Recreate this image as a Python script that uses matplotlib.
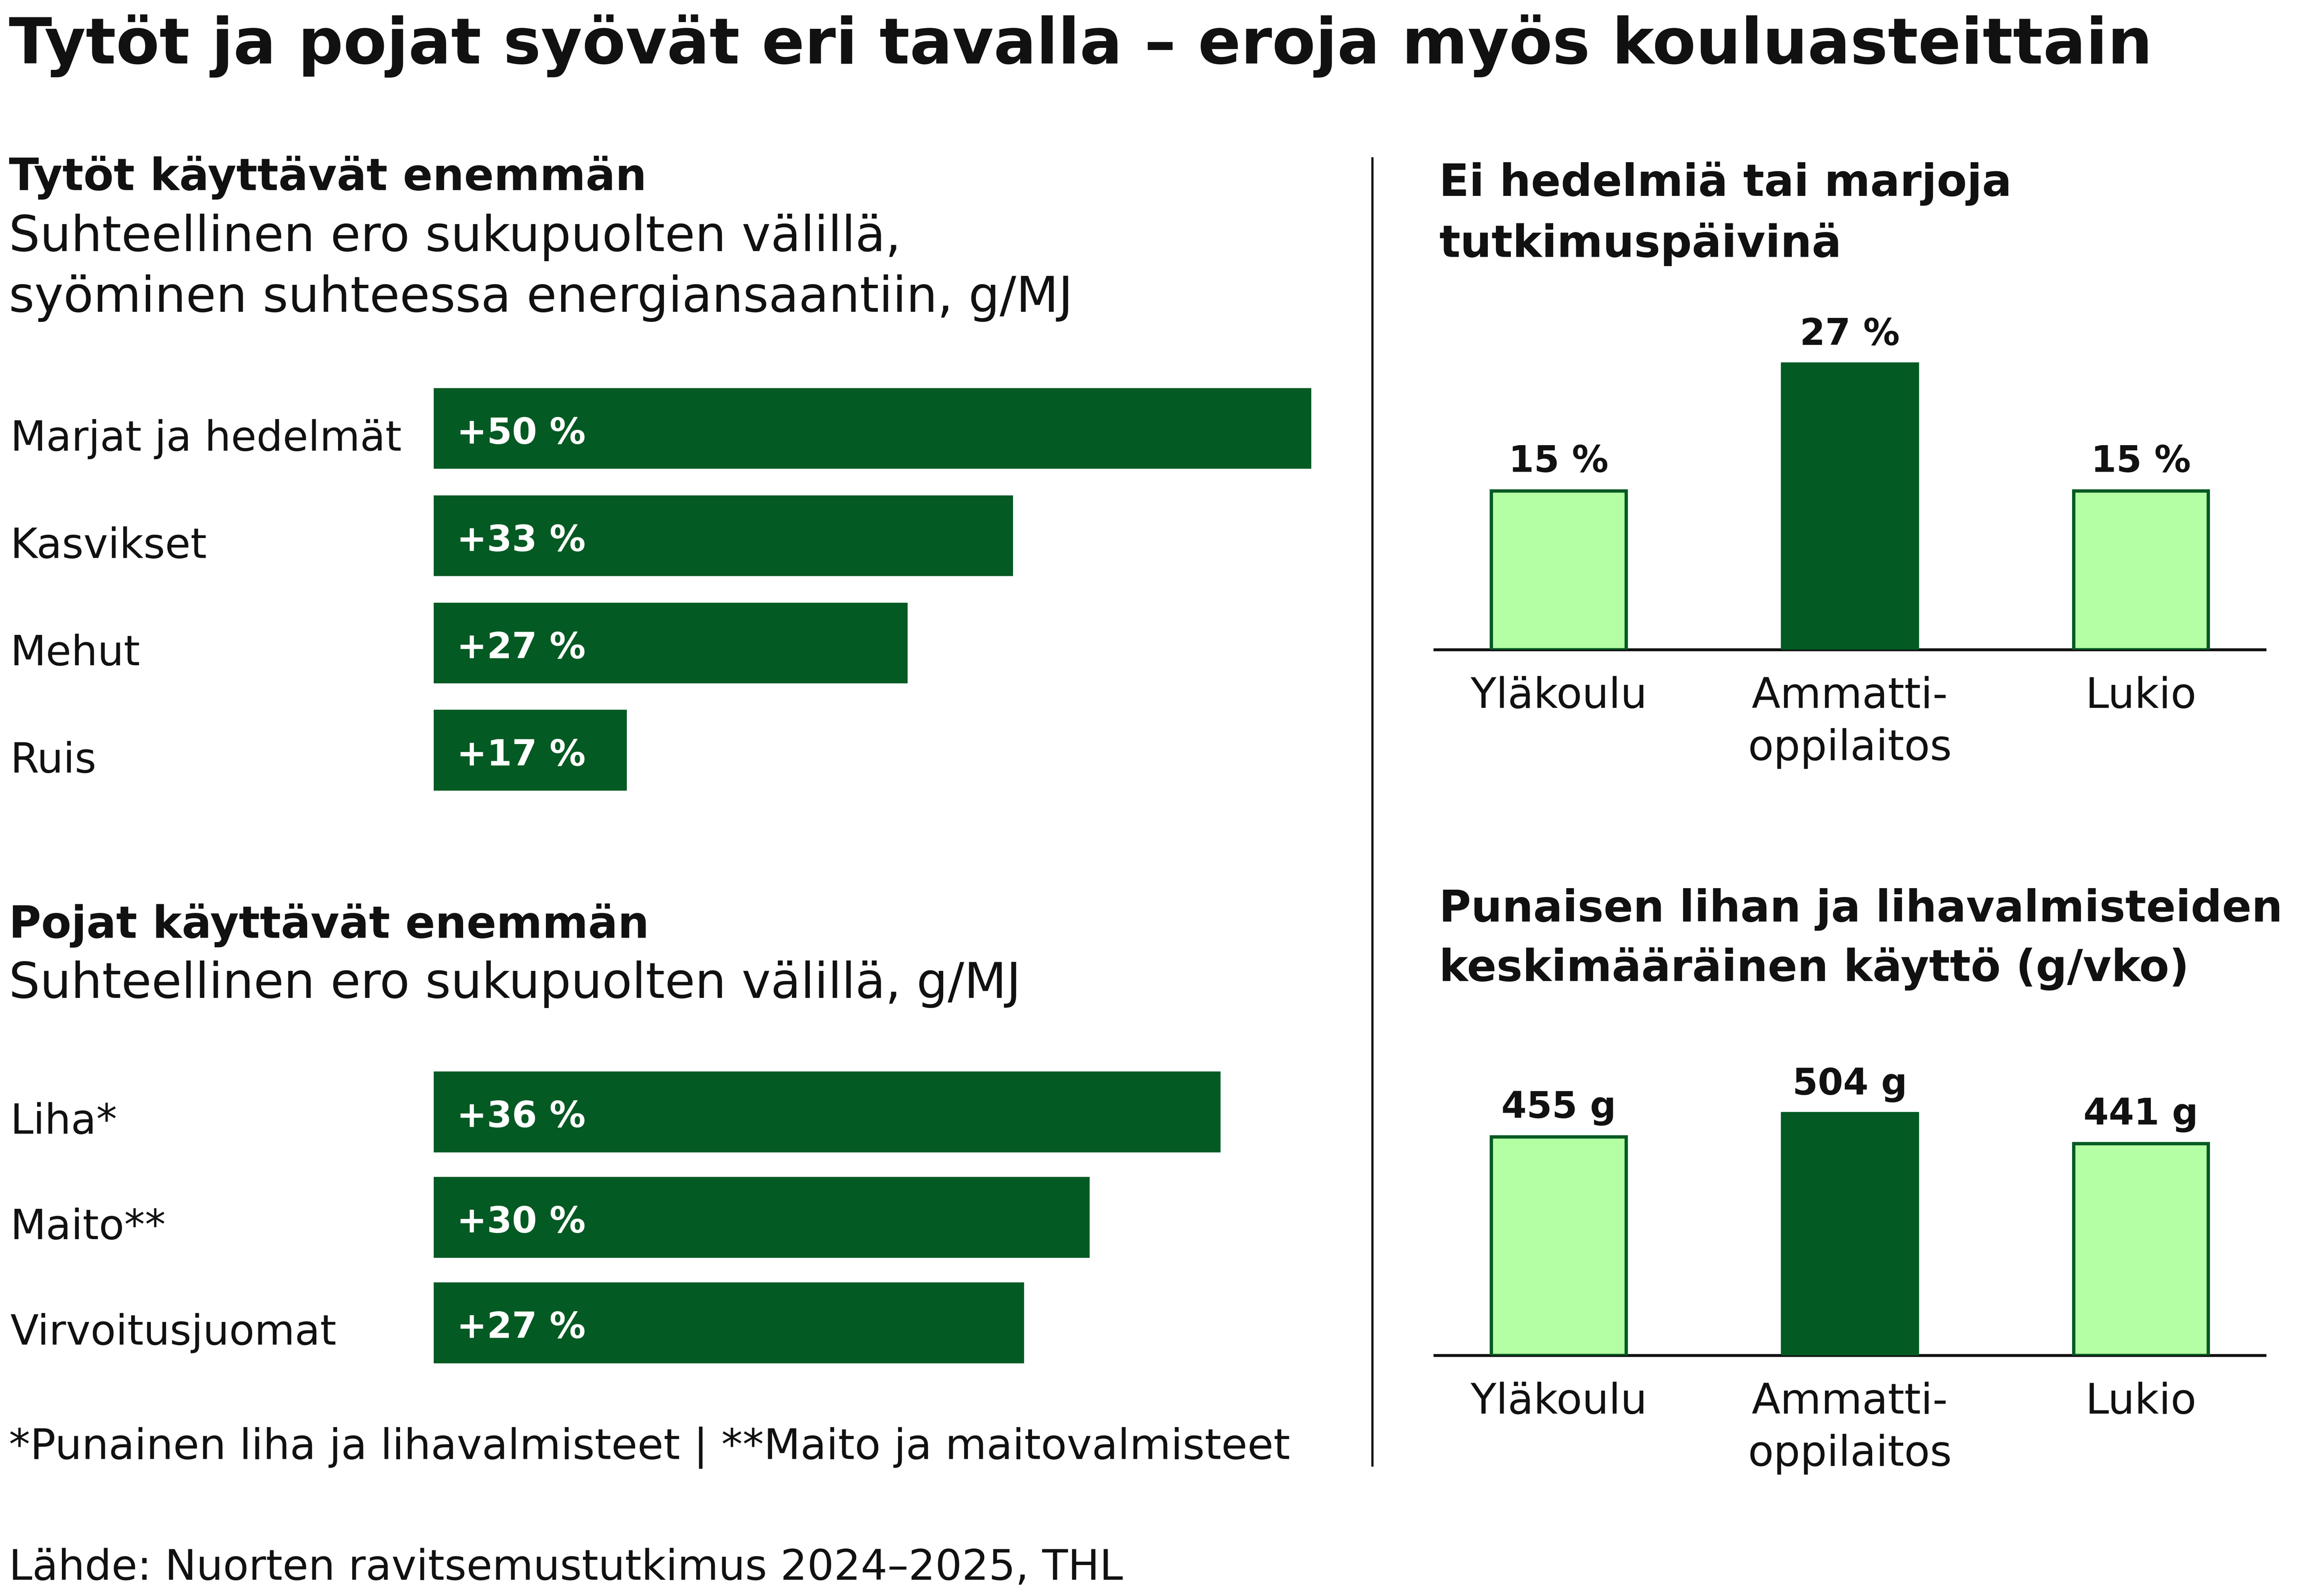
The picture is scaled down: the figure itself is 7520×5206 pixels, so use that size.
import matplotlib
matplotlib.use("Agg")
import matplotlib.pyplot as plt
from matplotlib.transforms import blended_transform_factory

plt.rcParams["font.family"] = ["DejaVu Sans"]

# data
tytot_cat = ["Marjat ja hedelmät", "Kasvikset", "Mehut", "Ruis"]
tytot_bar = [50, 33, 27, 11]          # bar lengths as drawn in the picture
tytot_txt = ["+50 %", "+33 %", "+27 %", "+17 %"]

pojat_cat = ["Liha*", "Maito**", "Virvoitusjuomat"]
pojat_bar = [36, 30, 27]
pojat_txt = ["+36 %", "+30 %", "+27 %"]

aste = ["Yläkoulu", "Ammatti-\noppilaitos", "Lukio"]
ei_hedelmia = [15, 27, 15]
ei_hedelmia_txt = ["15 %", "27 %", "15 %"]
liha_g = [455, 504, 441]
liha_g_txt = ["455 g", "504 g", "441 g"]

DARK = "#035a23"
LIGHT = "#b4ffa4"
TXT = "#111111"

W, H = 1552, 1075          # layout grid (reference at 1/5.155 scale)


def box(x0, y0, x1, y1):
    return [x0 / W, 1 - y1 / H, (x1 - x0) / W, (y1 - y0) / H]


def ftext(x, y, s, **kw):
    fig.text(x / W, 1 - y / H, s, va="baseline", ha="left", color=TXT, **kw)


fig = plt.figure(figsize=(16, 16 * 5539 / 8000), dpi=470)

ftext(6, 42.7, "Tytöt ja pojat syövät eri tavalla – eroja myös kouluasteittain",
      fontsize=31.6, fontweight="bold")

ftext(6, 128, "Tytöt käyttävät enemmän", fontsize=22, fontweight="bold")
ftext(6, 169, "Suhteellinen ero sukupuolten välillä,", fontsize=24.5)
ftext(6, 210, "syöminen suhteessa energiansaantiin, g/MJ", fontsize=24.5)

ftext(6, 631.5, "Pojat käyttävät enemmän", fontsize=22, fontweight="bold")
ftext(6, 672, "Suhteellinen ero sukupuolten välillä, g/MJ", fontsize=24.5)

ftext(6, 982.5, "*Punainen liha ja lihavalmisteet | **Maito ja maitovalmisteet",
      fontsize=21.2)
ftext(6, 1064, "Lähde: Nuorten ravitsemustutkimus 2024–2025, THL", fontsize=21)

ftext(969, 132, "Ei hedelmiä tai marjoja", fontsize=22, fontweight="bold")
ftext(969, 173, "tutkimuspäivinä", fontsize=22, fontweight="bold")
ftext(969, 620.6, "Punaisen lihan ja lihavalmisteiden", fontsize=21.8, fontweight="bold")
ftext(969, 660.6, "keskimääräinen käyttö (g/vko)", fontsize=21.8, fontweight="bold")

# separator
fig.add_artist(plt.Line2D([924 / W, 924 / W], [1 - 106.7 / H, 1 - 987 / H],
                          transform=fig.transFigure, color="#111111", lw=1.1))


def hbars(ax, cats, vals, txts, px_per_unit, x1_px, height):
    ax.barh(range(len(vals)), vals, height=height, color=DARK)
    ax.set_xlim(0, (x1_px - 292) / px_per_unit)
    ax.set_ylim(len(vals) - 0.5, -0.5)
    ax.axis("off")
    tr = blended_transform_factory(fig.transFigure, ax.transData)
    for i, (c, t) in enumerate(zip(cats, txts)):
        ax.text(7 / W, i + 0.205, c, transform=tr, fontsize=20.7, color=TXT,
                va="baseline", ha="left")
        ax.annotate(t, (0, i + 0.14), xytext=(11.5, 0), textcoords="offset points",
                    fontsize=18, fontweight="bold", color="white",
                    va="baseline", ha="left")


# spacing 72.2 px per row in the top chart, 71 px in the bottom one
ax1 = fig.add_axes(box(292, 288.7 - 36.1, 900, 505.4 + 36.1))
hbars(ax1, tytot_cat, tytot_bar, tytot_txt, 11.82, 900, 54.4 / 72.2)

ax2 = fig.add_axes(box(292, 749 - 35.5, 900, 891 + 35.5))
hbars(ax2, pojat_cat, pojat_bar, pojat_txt, 14.72, 900, 54.5 / 71)


def vbars(ax, vals, txts, top_val):
    colors = [LIGHT, DARK, LIGHT]
    ax.bar(range(3), vals, width=0.463, color=colors, edgecolor=DARK,
           linewidth=1.66, zorder=3)
    ax.set_xlim((966 - 1049.5) / 196, (1525 - 1049.5) / 196)
    ax.set_ylim(0, top_val)
    for s in ["top", "right", "left"]:
        ax.spines[s].set_visible(False)
    ax.spines["bottom"].set_linewidth(1.45)
    ax.spines["bottom"].set_color("#111111")
    ax.spines["bottom"].set_zorder(2)
    ax.set_yticks([])
    ax.set_xticks(range(3))
    ax.set_xticklabels(aste, fontsize=21, color=TXT, va="top", linespacing=1.36)
    ax.tick_params(axis="x", length=0, pad=13)
    for i, (v, t) in enumerate(zip(vals, txts)):
        ax.annotate(t, (i, v), xytext=(0, 9.6), textcoords="offset points",
                    ha="center", va="baseline", fontsize=18.2, fontweight="bold",
                    color=TXT)
    ax.patch.set_alpha(0)


ax3 = fig.add_axes(box(966, 200, 1525, 437.7))
vbars(ax3, ei_hedelmia, ei_hedelmia_txt, 237.7 / 7.13)

ax4 = fig.add_axes(box(966, 690, 1525, 913))
vbars(ax4, liha_g, liha_g_txt, 223 / 0.3235)

fig.savefig("out.png", dpi=470, facecolor="white")
